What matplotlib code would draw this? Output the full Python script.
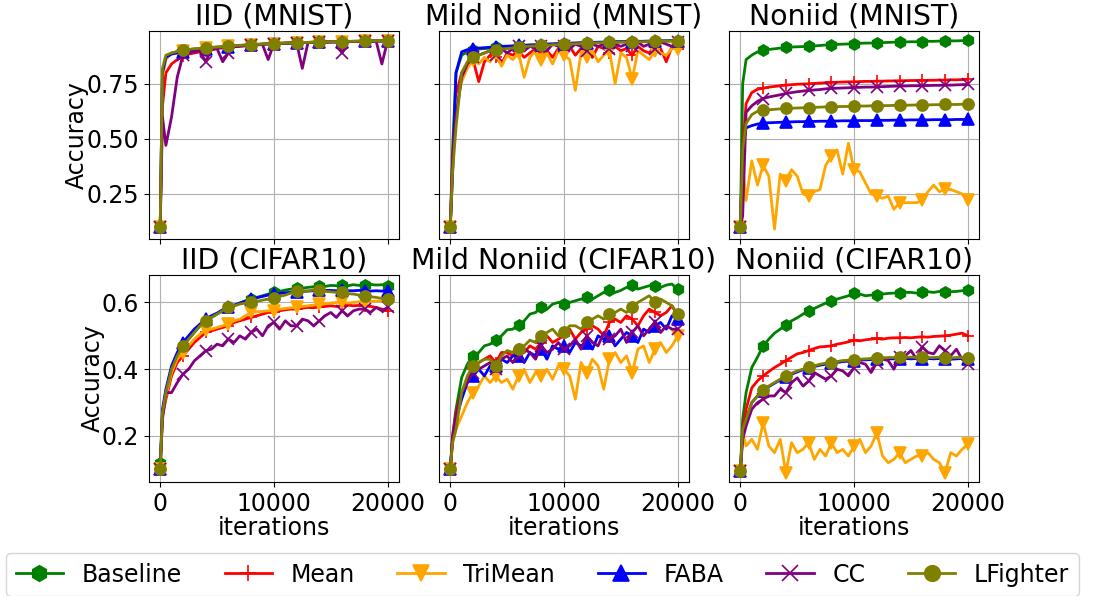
import matplotlib
matplotlib.use('Agg')
import matplotlib.pyplot as plt

plt.rcParams['font.size'] = 17

iters = [0, 200] + list(range(500, 20001, 500))

methods = ['Baseline', 'Mean', 'TriMean', 'FABA', 'CC', 'LFighter']
colors = ['green', 'red', 'orange', 'blue', 'purple', 'olive']
markers = ['h', '+', 'v', '^', 'x', 'o']
titles = ['IID (MNIST)', 'Mild Noniid (MNIST)', 'Noniid (MNIST)',
          'IID (CIFAR10)', 'Mild Noniid (CIFAR10)', 'Noniid (CIFAR10)']

# ---- IID (MNIST)
iid_mnist_baseline = [0.10, 0.80, 0.87, 0.89, 0.895, 0.902, 0.905, 0.908, 0.91, 0.912,
                      0.915, 0.917, 0.918, 0.92, 0.922, 0.924, 0.926, 0.927, 0.929, 0.93,
                      0.932, 0.933, 0.934, 0.935, 0.936, 0.937, 0.938, 0.938, 0.939, 0.94,
                      0.94, 0.941, 0.941, 0.942, 0.942, 0.943, 0.943, 0.944, 0.944, 0.945, 0.945, 0.946]
iid_mnist_mean = [0.10, 0.65, 0.80, 0.84, 0.86, 0.875, 0.885, 0.89, 0.895, 0.90,
                  0.905, 0.91, 0.913, 0.916, 0.919, 0.922, 0.924, 0.926, 0.928, 0.93,
                  0.932, 0.933, 0.934, 0.935, 0.936, 0.937, 0.938, 0.938, 0.939, 0.94,
                  0.94, 0.941, 0.941, 0.942, 0.942, 0.943, 0.943, 0.944, 0.944, 0.945, 0.945, 0.946]
iid_mnist_trimean = [0.10, 0.78, 0.86, 0.89, 0.895, 0.90, 0.905, 0.908, 0.91, 0.912,
                     0.914, 0.916, 0.918, 0.92, 0.921, 0.923, 0.925, 0.927, 0.928, 0.93,
                     0.931, 0.933, 0.934, 0.935, 0.936, 0.937, 0.937, 0.938, 0.939, 0.94,
                     0.94, 0.941, 0.941, 0.942, 0.942, 0.943, 0.943, 0.944, 0.944, 0.944, 0.945, 0.945]
iid_mnist_faba = [0.10, 0.80, 0.87, 0.885, 0.89, 0.895, 0.90, 0.904, 0.907, 0.91,
                  0.913, 0.915, 0.917, 0.919, 0.921, 0.923, 0.925, 0.927, 0.928, 0.93,
                  0.931, 0.932, 0.933, 0.934, 0.935, 0.936, 0.937, 0.937, 0.938, 0.939,
                  0.939, 0.94, 0.94, 0.941, 0.941, 0.942, 0.942, 0.943, 0.943, 0.944, 0.944, 0.945]
iid_mnist_cc = [0.10, 0.60, 0.47, 0.60, 0.78, 0.88, 0.89, 0.895, 0.90, 0.85,
                0.905, 0.91, 0.85, 0.89, 0.918, 0.92, 0.922, 0.925, 0.927, 0.928,
                0.86, 0.932, 0.933, 0.934, 0.935, 0.936, 0.82, 0.937, 0.938, 0.939,
                0.94, 0.94, 0.941, 0.89, 0.941, 0.942, 0.943, 0.943, 0.944, 0.944, 0.84, 0.945]
iid_mnist_lfighter = [0.10, 0.82, 0.88, 0.89, 0.897, 0.903, 0.906, 0.909, 0.911, 0.913,
                      0.915, 0.917, 0.919, 0.921, 0.923, 0.925, 0.926, 0.928, 0.929, 0.931,
                      0.932, 0.933, 0.934, 0.935, 0.936, 0.937, 0.938, 0.938, 0.939, 0.94,
                      0.94, 0.941, 0.942, 0.942, 0.943, 0.943, 0.944, 0.944, 0.945, 0.945, 0.946, 0.946]

# ---- Mild Noniid (MNIST)
mild_mnist_baseline = [0.10, 0.45, 0.80, 0.88, 0.895, 0.905, 0.908, 0.91, 0.912, 0.915,
                       0.917, 0.919, 0.921, 0.923, 0.924, 0.926, 0.927, 0.928, 0.93, 0.931,
                       0.932, 0.933, 0.934, 0.935, 0.936, 0.937, 0.938, 0.938, 0.939, 0.94,
                       0.94, 0.941, 0.941, 0.942, 0.942, 0.943, 0.943, 0.944, 0.944, 0.945, 0.945, 0.946]
mild_mnist_mean = [0.10, 0.40, 0.70, 0.80, 0.84, 0.86, 0.76, 0.85, 0.88, 0.87,
                   0.84, 0.89, 0.88, 0.90, 0.87, 0.89, 0.91, 0.88, 0.90, 0.87,
                   0.91, 0.90, 0.92, 0.88, 0.91, 0.90, 0.87, 0.92, 0.91, 0.89,
                   0.92, 0.90, 0.91, 0.88, 0.92, 0.90, 0.89, 0.92, 0.91, 0.85, 0.92, 0.91]
mild_mnist_trimean = [0.10, 0.35, 0.65, 0.76, 0.82, 0.86, 0.84, 0.87, 0.85, 0.89,
                      0.83, 0.88, 0.86, 0.89, 0.78, 0.87, 0.90, 0.86, 0.89, 0.84,
                      0.90, 0.88, 0.86, 0.72, 0.89, 0.87, 0.90, 0.85, 0.88, 0.90,
                      0.75, 0.89, 0.87, 0.77, 0.90, 0.88, 0.86, 0.90, 0.89, 0.88, 0.91, 0.91]
mild_mnist_faba = [0.10, 0.34, 0.80, 0.895, 0.905, 0.91, 0.912, 0.914, 0.916, 0.918,
                   0.92, 0.921, 0.922, 0.924, 0.925, 0.926, 0.927, 0.928, 0.93, 0.931,
                   0.932, 0.933, 0.934, 0.935, 0.936, 0.937, 0.938, 0.939, 0.939, 0.94,
                   0.941, 0.941, 0.942, 0.942, 0.943, 0.943, 0.944, 0.944, 0.945, 0.945, 0.946, 0.946]
mild_mnist_cc = [0.10, 0.40, 0.60, 0.78, 0.84, 0.87, 0.88, 0.89, 0.90, 0.88,
                 0.91, 0.89, 0.91, 0.92, 0.90, 0.92, 0.91, 0.92, 0.90, 0.93,
                 0.92, 0.92, 0.91, 0.93, 0.92, 0.90, 0.93, 0.92, 0.93, 0.91,
                 0.93, 0.92, 0.93, 0.92, 0.94, 0.92, 0.93, 0.91, 0.94, 0.93, 0.92, 0.94]
mild_mnist_lfighter = [0.10, 0.35, 0.55, 0.80, 0.85, 0.87, 0.88, 0.89, 0.90, 0.905,
                       0.908, 0.91, 0.913, 0.918, 0.92, 0.921, 0.922, 0.924, 0.925, 0.927,
                       0.928, 0.93, 0.931, 0.932, 0.933, 0.934, 0.935, 0.936, 0.937, 0.938,
                       0.938, 0.939, 0.94, 0.94, 0.941, 0.941, 0.942, 0.943, 0.943, 0.944, 0.944, 0.945]

# ---- Noniid (MNIST)
non_mnist_baseline = [0.10, 0.75, 0.86, 0.88, 0.895, 0.903, 0.906, 0.909, 0.912, 0.915,
                      0.917, 0.918, 0.919, 0.92, 0.922, 0.924, 0.926, 0.928, 0.929, 0.93,
                      0.931, 0.933, 0.934, 0.935, 0.935, 0.936, 0.937, 0.938, 0.939, 0.94,
                      0.94, 0.941, 0.941, 0.942, 0.943, 0.943, 0.944, 0.944, 0.945, 0.945, 0.946, 0.947]
non_mnist_mean = [0.10, 0.45, 0.66, 0.71, 0.725, 0.73, 0.735, 0.738, 0.741, 0.744,
                  0.746, 0.748, 0.749, 0.75, 0.752, 0.753, 0.755, 0.756, 0.757, 0.758,
                  0.759, 0.759, 0.760, 0.761, 0.761, 0.762, 0.762, 0.763, 0.763, 0.764,
                  0.764, 0.765, 0.765, 0.765, 0.766, 0.766, 0.767, 0.767, 0.768, 0.768, 0.769, 0.77]
non_mnist_trimean = [0.10, 0.37, 0.22, 0.40, 0.29, 0.38, 0.33, 0.09, 0.34, 0.31,
                     0.36, 0.33, 0.25, 0.24, 0.26, 0.27, 0.38, 0.42, 0.45, 0.34,
                     0.48, 0.36, 0.35, 0.30, 0.25, 0.24, 0.23, 0.24, 0.18, 0.21,
                     0.21, 0.21, 0.21, 0.22, 0.26, 0.29, 0.26, 0.27, 0.27, 0.26, 0.25, 0.22]
non_mnist_faba = [0.10, 0.45, 0.55, 0.56, 0.567, 0.572, 0.573, 0.574, 0.575, 0.577,
                  0.577, 0.578, 0.578, 0.579, 0.579, 0.58, 0.58, 0.581, 0.581, 0.582,
                  0.582, 0.582, 0.583, 0.583, 0.583, 0.584, 0.584, 0.584, 0.585, 0.585,
                  0.585, 0.586, 0.586, 0.586, 0.586, 0.587, 0.587, 0.587, 0.587, 0.588, 0.588, 0.588]
non_mnist_cc = [0.10, 0.15, 0.62, 0.65, 0.67, 0.683, 0.69, 0.695, 0.70, 0.706,
                0.71, 0.714, 0.717, 0.72, 0.722, 0.724, 0.727, 0.729, 0.73, 0.731,
                0.732, 0.733, 0.734, 0.735, 0.735, 0.736, 0.737, 0.738, 0.739, 0.74,
                0.74, 0.741, 0.741, 0.742, 0.742, 0.743, 0.743, 0.744, 0.744, 0.745, 0.746, 0.747]
non_mnist_lfighter = [0.10, 0.45, 0.57, 0.61, 0.625, 0.63, 0.632, 0.634, 0.636, 0.638,
                      0.639, 0.64, 0.641, 0.642, 0.643, 0.644, 0.645, 0.645, 0.646, 0.647,
                      0.647, 0.648, 0.649, 0.649, 0.65, 0.65, 0.651, 0.651, 0.652, 0.652,
                      0.653, 0.653, 0.654, 0.654, 0.654, 0.655, 0.655, 0.656, 0.656, 0.656, 0.657, 0.657]

# ---- IID (CIFAR10)
iid_cifar_baseline = [0.12, 0.27, 0.33, 0.40, 0.44, 0.47, 0.49, 0.51, 0.53, 0.545,
                      0.555, 0.565, 0.575, 0.585, 0.59, 0.598, 0.605, 0.61, 0.615, 0.62,
                      0.625, 0.63, 0.633, 0.637, 0.64, 0.642, 0.643, 0.645, 0.647, 0.65,
                      0.648, 0.651, 0.65, 0.652, 0.65, 0.653, 0.651, 0.652, 0.654, 0.652, 0.653, 0.65]
iid_cifar_mean = [0.10, 0.26, 0.31, 0.38, 0.42, 0.44, 0.46, 0.48, 0.495, 0.51,
                  0.515, 0.52, 0.525, 0.53, 0.54, 0.545, 0.55, 0.555, 0.56, 0.565,
                  0.57, 0.57, 0.575, 0.578, 0.58, 0.58, 0.583, 0.585, 0.584, 0.587,
                  0.588, 0.59, 0.588, 0.59, 0.592, 0.59, 0.591, 0.59, 0.588, 0.585, 0.58, 0.575]
iid_cifar_trimean = [0.10, 0.27, 0.32, 0.39, 0.43, 0.45, 0.47, 0.49, 0.505, 0.518,
                     0.52, 0.525, 0.53, 0.535, 0.545, 0.55, 0.56, 0.57, 0.572, 0.573,
                     0.575, 0.575, 0.58, 0.582, 0.584, 0.585, 0.588, 0.59, 0.592, 0.595,
                     0.596, 0.598, 0.6, 0.6, 0.598, 0.6, 0.602, 0.6, 0.603, 0.604, 0.605, 0.605]
iid_cifar_faba = [0.10, 0.28, 0.34, 0.41, 0.45, 0.48, 0.50, 0.52, 0.535, 0.55,
                  0.56, 0.568, 0.578, 0.585, 0.592, 0.598, 0.604, 0.61, 0.614, 0.618,
                  0.622, 0.625, 0.627, 0.629, 0.63, 0.632, 0.633, 0.634, 0.635, 0.636,
                  0.636, 0.636, 0.635, 0.636, 0.635, 0.635, 0.636, 0.635, 0.634, 0.635, 0.634, 0.635]
iid_cifar_cc = [0.10, 0.25, 0.33, 0.33, 0.36, 0.385, 0.40, 0.425, 0.44, 0.455,
                0.46, 0.475, 0.47, 0.49, 0.48, 0.50, 0.49, 0.51, 0.52, 0.50,
                0.53, 0.54, 0.52, 0.545, 0.53, 0.53, 0.55, 0.545, 0.53, 0.545,
                0.56, 0.57, 0.555, 0.575, 0.56, 0.575, 0.58, 0.58, 0.57, 0.585, 0.575, 0.585]
iid_cifar_lfighter = [0.10, 0.27, 0.33, 0.40, 0.44, 0.47, 0.49, 0.51, 0.53, 0.545,
                      0.555, 0.565, 0.575, 0.585, 0.59, 0.595, 0.598, 0.60, 0.603, 0.607,
                      0.61, 0.612, 0.618, 0.622, 0.628, 0.633, 0.635, 0.634, 0.638, 0.636,
                      0.633, 0.632, 0.63, 0.63, 0.626, 0.625, 0.622, 0.62, 0.617, 0.615, 0.612, 0.61]

# ---- Mild Noniid (CIFAR10)
mild_cifar_baseline = [0.10, 0.20, 0.28, 0.375, 0.415, 0.44, 0.45, 0.47, 0.475, 0.487,
                       0.50, 0.518, 0.52, 0.533, 0.545, 0.565, 0.57, 0.585, 0.58, 0.595,
                       0.60, 0.595, 0.60, 0.605, 0.61, 0.615, 0.61, 0.62, 0.63, 0.636,
                       0.63, 0.636, 0.645, 0.651, 0.64, 0.645, 0.65, 0.65, 0.645, 0.652, 0.655, 0.64]
mild_cifar_mean = [0.10, 0.20, 0.27, 0.33, 0.37, 0.40, 0.42, 0.43, 0.44, 0.42,
                   0.45, 0.45, 0.44, 0.46, 0.45, 0.47, 0.46, 0.48, 0.50, 0.48,
                   0.49, 0.50, 0.52, 0.49, 0.51, 0.52, 0.53, 0.52, 0.50, 0.54,
                   0.55, 0.54, 0.56, 0.55, 0.53, 0.56, 0.58, 0.57, 0.56, 0.57, 0.59, 0.56]
mild_cifar_trimean = [0.10, 0.18, 0.22, 0.26, 0.30, 0.33, 0.35, 0.38, 0.36, 0.38,
                      0.36, 0.37, 0.34, 0.38, 0.40, 0.36, 0.39, 0.38, 0.40, 0.37,
                      0.41, 0.40, 0.38, 0.31, 0.42, 0.39, 0.43, 0.41, 0.34, 0.43,
                      0.45, 0.42, 0.44, 0.39, 0.46, 0.47, 0.42, 0.46, 0.48, 0.45, 0.47, 0.50]
mild_cifar_faba = [0.10, 0.19, 0.25, 0.31, 0.36, 0.38, 0.40, 0.38, 0.41, 0.41,
                   0.43, 0.42, 0.44, 0.44, 0.42, 0.45, 0.44, 0.46, 0.43, 0.47,
                   0.46, 0.47, 0.45, 0.48, 0.47, 0.48, 0.46, 0.50, 0.49, 0.50,
                   0.47, 0.49, 0.51, 0.50, 0.48, 0.52, 0.51, 0.53, 0.54, 0.52, 0.56, 0.55]
mild_cifar_cc = [0.10, 0.19, 0.26, 0.33, 0.36, 0.39, 0.40, 0.41, 0.42, 0.40,
                 0.43, 0.44, 0.42, 0.44, 0.46, 0.45, 0.43, 0.47, 0.45, 0.46,
                 0.48, 0.46, 0.47, 0.49, 0.46, 0.50, 0.48, 0.47, 0.51, 0.49,
                 0.50, 0.52, 0.48, 0.51, 0.53, 0.50, 0.52, 0.54, 0.51, 0.53, 0.52, 0.52]
mild_cifar_lfighter = [0.10, 0.18, 0.22, 0.33, 0.38, 0.41, 0.42, 0.43, 0.43, 0.41,
                       0.44, 0.456, 0.45, 0.46, 0.47, 0.487, 0.48, 0.50, 0.51, 0.52,
                       0.50, 0.51, 0.53, 0.53, 0.52, 0.54, 0.55, 0.56, 0.55, 0.565,
                       0.57, 0.58, 0.57, 0.585, 0.60, 0.61, 0.62, 0.60, 0.61, 0.60, 0.59, 0.565]

# ---- Noniid (CIFAR10)
non_cifar_baseline = [0.095, 0.25, 0.33, 0.405, 0.436, 0.47, 0.49, 0.508, 0.52, 0.533,
                      0.545, 0.554, 0.565, 0.574, 0.582, 0.59, 0.598, 0.605, 0.61, 0.615,
                      0.62, 0.629, 0.625, 0.62, 0.622, 0.623, 0.625, 0.627, 0.628, 0.628,
                      0.63, 0.63, 0.628, 0.631, 0.632, 0.63, 0.633, 0.63, 0.632, 0.633, 0.635, 0.638]
non_cifar_mean = [0.095, 0.22, 0.28, 0.344, 0.365, 0.38, 0.393, 0.405, 0.415, 0.426,
                  0.436, 0.446, 0.45, 0.456, 0.462, 0.467, 0.468, 0.47, 0.475, 0.478,
                  0.482, 0.487, 0.485, 0.488, 0.49, 0.492, 0.49, 0.493, 0.494, 0.494,
                  0.495, 0.494, 0.496, 0.497, 0.496, 0.498, 0.499, 0.5, 0.502, 0.505, 0.508, 0.50]
non_cifar_trimean = [0.095, 0.21, 0.17, 0.19, 0.16, 0.24, 0.17, 0.15, 0.19, 0.09,
                     0.18, 0.15, 0.16, 0.18, 0.13, 0.16, 0.14, 0.18, 0.15, 0.16,
                     0.14, 0.17, 0.19, 0.15, 0.17, 0.21, 0.14, 0.12, 0.13, 0.15,
                     0.12, 0.13, 0.14, 0.14, 0.15, 0.13, 0.12, 0.09, 0.15, 0.14, 0.16, 0.175]
non_cifar_faba = [0.095, 0.21, 0.25, 0.30, 0.32, 0.335, 0.348, 0.358, 0.368, 0.377,
                  0.385, 0.392, 0.398, 0.404, 0.408, 0.412, 0.415, 0.418, 0.42, 0.423,
                  0.424, 0.426, 0.427, 0.428, 0.429, 0.43, 0.43, 0.431, 0.431, 0.432,
                  0.432, 0.431, 0.432, 0.43, 0.432, 0.431, 0.432, 0.431, 0.43, 0.431, 0.432, 0.43]
non_cifar_cc = [0.095, 0.19, 0.23, 0.28, 0.30, 0.31, 0.32, 0.32, 0.34, 0.33,
                0.36, 0.374, 0.35, 0.364, 0.39, 0.38, 0.37, 0.38, 0.40, 0.395,
                0.38, 0.405, 0.42, 0.415, 0.39, 0.42, 0.43, 0.426, 0.40, 0.436,
                0.44, 0.456, 0.43, 0.467, 0.45, 0.446, 0.47, 0.456, 0.44, 0.46, 0.43, 0.415]
non_cifar_lfighter = [0.095, 0.22, 0.25, 0.30, 0.32, 0.338, 0.35, 0.36, 0.37, 0.38,
                      0.388, 0.395, 0.40, 0.407, 0.41, 0.415, 0.418, 0.42, 0.423, 0.426,
                      0.427, 0.428, 0.43, 0.431, 0.432, 0.434, 0.434, 0.435, 0.435, 0.436,
                      0.436, 0.436, 0.435, 0.436, 0.435, 0.435, 0.436, 0.435, 0.434, 0.435, 0.435, 0.435]

panels = [
    [iid_mnist_baseline, iid_mnist_mean, iid_mnist_trimean, iid_mnist_faba, iid_mnist_cc, iid_mnist_lfighter],
    [mild_mnist_baseline, mild_mnist_mean, mild_mnist_trimean, mild_mnist_faba, mild_mnist_cc, mild_mnist_lfighter],
    [non_mnist_baseline, non_mnist_mean, non_mnist_trimean, non_mnist_faba, non_mnist_cc, non_mnist_lfighter],
    [iid_cifar_baseline, iid_cifar_mean, iid_cifar_trimean, iid_cifar_faba, iid_cifar_cc, iid_cifar_lfighter],
    [mild_cifar_baseline, mild_cifar_mean, mild_cifar_trimean, mild_cifar_faba, mild_cifar_cc, mild_cifar_lfighter],
    [non_cifar_baseline, non_cifar_mean, non_cifar_trimean, non_cifar_faba, non_cifar_cc, non_cifar_lfighter],
]

# markers only every 2000 iterations
mark_idx = [i for i, it in enumerate(iters) if it % 2000 == 0]

fig, axes = plt.subplots(2, 3, figsize=(11.19, 5.96), dpi=100, sharex=True, sharey='row')
fig.subplots_adjust(left=0.133, right=0.875, top=0.948, bottom=0.191, wspace=0.16, hspace=0.174)

for p, ax in enumerate(axes.flat):
    for m in range(len(methods)):
        ax.plot(iters, panels[p][m], color=colors[m], marker=markers[m], markevery=mark_idx,
                markersize=8, markeredgewidth=1.2, linewidth=2, label=methods[m])
    ax.set_title(titles[p], pad=1)
    ax.grid(True)

for ax in axes[1]:
    ax.set_xlabel('iterations', labelpad=0)
axes[0, 0].set_ylabel('Accuracy', labelpad=-2)
axes[1, 0].set_ylabel('Accuracy', labelpad=-2)
axes[1, 0].set_xticks([0, 10000, 20000])

handles, labels = axes[0, 0].get_legend_handles_labels()
fig.legend(handles, labels, loc='lower left', bbox_to_anchor=(-0.005, -0.02), ncol=6,
           markerscale=1.4, columnspacing=1.8)

fig.savefig('out.png', dpi=100)
